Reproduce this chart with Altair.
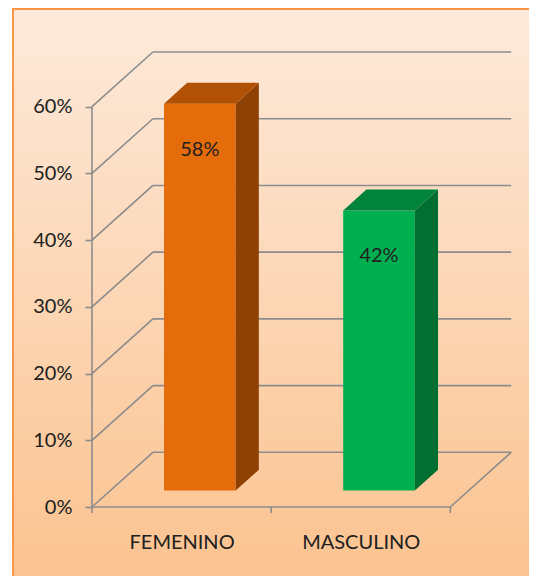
import json
import altair as alt
import pandas as pd

# ---------------- data ----------------
categories = ["FEMENINO", "MASCULINO"]
values = [0.58, 0.42]
y_ticks = [0.0, 0.1, 0.2, 0.3, 0.4, 0.5, 0.6]
x_ticks = [0, 1, 2]
front_colors = ["#E46C0A", "#00B050"]
top_colors = ["#B05106", "#00843B"]
side_colors = ["#8F4104", "#006F31"]

# ---------------- layout / style constants ----------------
DX, DY = 0.34, 0.082      # depth of the 3D floor (x units, y units)
F1, F2 = 0.30, 0.68       # bar front / back planes as fraction of depth
HALF = 0.2                # half bar width in category units
W, H = 430, 467
XDOM, YDOM = [0, 2.4], [0, 0.7]
GRID = "#8C8C8C"
FONT = "Lato"
TXT = "#202020"

xs = alt.Scale(domain=XDOM, nice=False, zero=False)
ys = alt.Scale(domain=YDOM, nice=False, zero=False)
xaxis = alt.Axis(values=[i + 0.5 for i in range(len(categories))],
                 labelExpr=json.dumps(categories) + "[floor(datum.value)]",
                 ticks=False, domain=False, grid=False, title=None,
                 labelFont=FONT, labelFontSize=20, labelColor=TXT,
                 labelBaseline="alphabetic", labelPadding=41,
                 labelOverlap=False, labelFlush=False, zindex=2)
yaxis = alt.Axis(values=y_ticks, format=".0%", tickSize=7, tickColor=GRID,
                 tickWidth=1.6, domain=False, grid=False, title=None,
                 labelFont=FONT, labelFontSize=20, labelColor=TXT,
                 labelPadding=13, labelOverlap=False, zindex=2)

rows = []
for i, (c, v) in enumerate(zip(categories, values)):
    left = i + 0.5 - HALF + F1 * DX
    right = i + 0.5 + HALF + F1 * DX
    bottom = F1 * DY
    top = v + F1 * DY
    rows.append(dict(cat=c, val=v, left=left, right=right, bottom=bottom,
                     top=top, mid=(left + right) / 2,
                     front=front_colors[i], topc=top_colors[i],
                     side=side_colors[i]))
bars = pd.DataFrame(rows)
dDX, dDY = (F2 - F1) * DX, (F2 - F1) * DY

side_rows, top_rows = [], []
for r in rows:
    side_rows.append(dict(cat=r["cat"], c=r["side"], x=r["right"], y=r["top"], y2=r["bottom"]))
    side_rows.append(dict(cat=r["cat"], c=r["side"], x=r["right"] + dDX,
                          y=r["top"] + dDY, y2=r["bottom"] + dDY))
    top_rows.append(dict(cat=r["cat"], c=r["topc"], y=r["top"], x=r["left"], x2=r["right"]))
    top_rows.append(dict(cat=r["cat"], c=r["topc"], y=r["top"] + dDY,
                         x=r["left"] + dDX, x2=r["right"] + dDX))
side_df = pd.DataFrame(side_rows)
top_df = pd.DataFrame(top_rows)

xmax = x_ticks[-1]
ymax = y_ticks[-1]
segs = []
for t in y_ticks:
    segs.append(dict(x=DX, x2=xmax + DX, y=t + DY, y2=t + DY))   # back wall gridline
    segs.append(dict(x=0, x2=DX, y=t, y2=t + DY))                # side wall diagonal
segs.append(dict(x=0, x2=0, y=0, y2=ymax))                       # front vertical axis
segs.append(dict(x=0, x2=xmax, y=0, y2=0))                       # front floor edge
segs.append(dict(x=xmax, x2=xmax + DX, y=0, y2=DY))              # right floor edge
seg_df = pd.DataFrame(segs)
xt_df = pd.DataFrame({"x": x_ticks})

X = lambda f: alt.X(f, type="quantitative", scale=xs, axis=xaxis)
Y = lambda f: alt.Y(f, type="quantitative", scale=ys, axis=yaxis)

bg = alt.Chart(pd.DataFrame({"k": [0]})).mark_rect(
    color=alt.Gradient(gradient="linear",
                       stops=[alt.GradientStop(color="#FDEADB", offset=0),
                              alt.GradientStop(color="#FBC08A", offset=1)],
                       x1=0, x2=0, y1=0, y2=1),
    stroke="#F79646", strokeWidth=2
).encode(x=alt.value(-79), x2=alt.value(470), y=alt.value(-31), y2=alt.value(580))

grid = alt.Chart(seg_df).mark_rule(color=GRID, strokeWidth=1.6).encode(
    x=X("x"), x2="x2", y=Y("y"), y2="y2")

xt = alt.Chart(xt_df).mark_rule(color=GRID, strokeWidth=1.6).encode(
    x=X("x"), y=alt.value(H), y2=alt.value(H + 6))

front = alt.Chart(bars).mark_rect().encode(
    x=X("left"), x2="right", y=Y("bottom"), y2="top",
    color=alt.Color("front:N", scale=None))

side = alt.Chart(side_df).mark_area(orient="vertical").encode(
    x=X("x"), y=Y("y"), y2="y2", detail="cat:N",
    color=alt.Color("c:N", scale=None))

topf = alt.Chart(top_df).mark_area(orient="horizontal").encode(
    y=Y("y"), x=X("x"), x2="x2", detail="cat:N",
    color=alt.Color("c:N", scale=None))

labels = alt.Chart(bars).mark_text(font=FONT, fontSize=20, color=TXT,
                                   baseline="middle", dy=46).encode(
    x=X("mid"), y=Y("top"), text=alt.Text("val:Q", format=".0%"))

chart = alt.layer(bg, grid, xt, front, side, topf, labels).properties(
    width=W, height=H,
    autosize=alt.AutoSizeParams(type="none"),
    padding={"left": 84, "top": 32, "right": 7, "bottom": 69}
).configure_view(stroke=None)

chart.save("out.html", embed_options={"renderer": "svg", "actions": False})
